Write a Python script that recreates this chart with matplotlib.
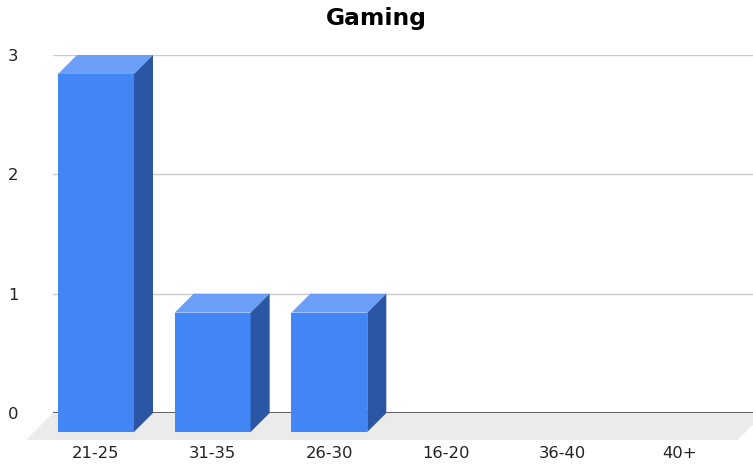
import numpy as np
import matplotlib.pyplot as plt
from matplotlib.patches import Polygon

# Chart data
categories = ['21-25', '31-35', '26-30', '16-20', '36-40', '40+']
values = [3, 1, 1, 0, 0, 0]
y_ticks = [0, 1, 2, 3]

# 3D look (data units)
bar_w = 0.651
front_left = -0.457
dx, dy = 0.163, 0.159
floor_dx, floor_dy = 0.231, 0.226

c_front = '#4285f4'
c_top = '#6b9ef6'
c_side = '#2b56a3'

fig = plt.figure(figsize=(7.53, 4.68), dpi=100)
ax = fig.add_axes([53 / 753, 55 / 468, 700 / 753, 358 / 468])
ax.set_xlim(-0.5, 5.5)
ax.set_ylim(0, 3)
for s in ax.spines.values():
    s.set_visible(False)

# floor
floor = Polygon([(-0.5, 0), (5.6, 0), (5.6 - floor_dx, -floor_dy), (-0.5 - floor_dx, -floor_dy)],
                closed=True, facecolor='#ebebeb', edgecolor='none', zorder=0.5, clip_on=False)
ax.add_patch(floor)

# gridlines
for t in y_ticks[1:]:
    ax.axhline(t, color='#cccccc', lw=1, zorder=0.6)
ax.axhline(0, color='#444444', lw=1.2, zorder=1)

x = np.arange(len(categories))
for i, v in enumerate(values):
    if v <= 0:
        continue
    xl = x[i] + front_left
    ax.bar(xl, v, width=bar_w, bottom=-dy, align='edge', color=c_front, zorder=3, clip_on=False)
    top = Polygon([(xl, v - dy), (xl + bar_w, v - dy), (xl + bar_w + dx, v), (xl + dx, v)],
                  closed=True, facecolor=c_top, edgecolor='none', zorder=3, clip_on=False)
    side = Polygon([(xl + bar_w, -dy), (xl + bar_w + dx, 0), (xl + bar_w + dx, v), (xl + bar_w, v - dy)],
                   closed=True, facecolor=c_side, edgecolor='none', zorder=3, clip_on=False)
    ax.add_patch(top)
    ax.add_patch(side)

ax.set_yticks(y_ticks)
ax.set_yticklabels([str(t) for t in y_ticks], fontsize=11.8, color='#222222')
ax.tick_params(axis='y', length=0, pad=25)
ax.set_xticks(x + front_left + bar_w / 2)
ax.set_xticklabels(categories, fontsize=11.8, color='#222222')
ax.tick_params(axis='x', length=0, pad=24)

fig.text(376 / 753, 1 - 18 / 468, 'Gaming', ha='center', va='center',
         fontsize=16.8, fontweight='bold', color='black')

fig.savefig('out.png', dpi=100)
